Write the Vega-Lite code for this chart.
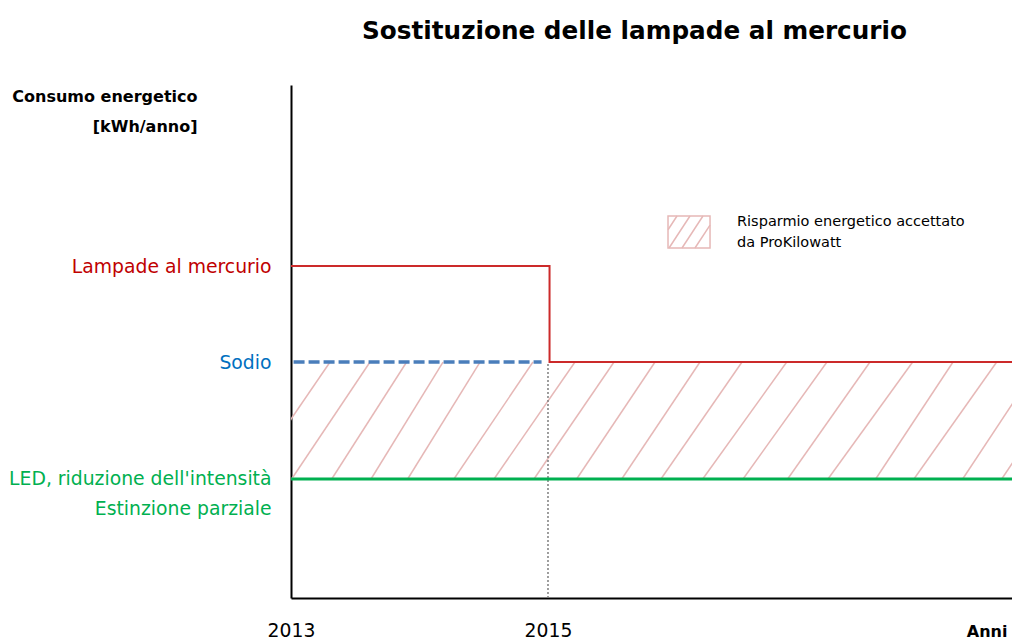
{
  "$schema": "https://vega.github.io/schema/vega-lite/v6.json",
  "width": 721,
  "height": 513,
  "autosize": {"type": "none"},
  "padding": {"left": 291, "top": 85, "right": 0, "bottom": 41},
  "background": "white",
  "config": {"view": {"stroke": null}, "font": "DejaVu Sans"},
  "title": {
    "text": "Sostituzione delle lampade al mercurio",
    "font": "DejaVu Sans",
    "fontSize": 24.7,
    "fontWeight": "bold",
    "color": "#000000",
    "anchor": "middle",
    "dx": -17,
    "baseline": "alphabetic",
    "offset": 21
  },
  "datasets": {
    "red": [
      {"x": 2013, "y": 64.7, "o": 1},
      {"x": 2015.012, "y": 64.7, "o": 2},
      {"x": 2015.012, "y": 46, "o": 3},
      {"x": 2018.611, "y": 46, "o": 4}
    ],
    "blue": [
      {"x": 2013.02, "y": 46},
      {"x": 2014.95, "y": 46}
    ],
    "green": [
      {"x": 2013, "y": 23.2},
      {"x": 2018.611, "y": 23.2}
    ],
    "dotted": [
      {"x": 2015, "y": 0, "y2": 46}
    ],
    "hatch": [
      {"x": 2012.681, "x2": 2013.304, "y": 23.2, "y2": 46},
      {"x": 2013.005, "x2": 2013.615, "y": 23.2, "y2": 46},
      {"x": 2013.317, "x2": 2013.900, "y": 23.2, "y2": 46},
      {"x": 2013.623, "x2": 2014.183, "y": 23.2, "y2": 46},
      {"x": 2013.908, "x2": 2014.471, "y": 23.2, "y2": 46},
      {"x": 2014.268, "x2": 2014.883, "y": 23.2, "y2": 46},
      {"x": 2014.580, "x2": 2015.210, "y": 23.2, "y2": 46},
      {"x": 2014.891, "x2": 2015.514, "y": 23.2, "y2": 46},
      {"x": 2015.223, "x2": 2015.833, "y": 23.2, "y2": 46},
      {"x": 2015.574, "x2": 2016.183, "y": 23.2, "y2": 46},
      {"x": 2015.879, "x2": 2016.510, "y": 23.2, "y2": 46},
      {"x": 2016.204, "x2": 2016.858, "y": 23.2, "y2": 46},
      {"x": 2016.518, "x2": 2017.171, "y": 23.2, "y2": 46},
      {"x": 2016.865, "x2": 2017.506, "y": 23.2, "y2": 46},
      {"x": 2017.179, "x2": 2017.838, "y": 23.2, "y2": 46},
      {"x": 2017.550, "x2": 2018.152, "y": 23.2, "y2": 46},
      {"x": 2017.848, "x2": 2018.492, "y": 23.2, "y2": 46},
      {"x": 2018.227, "x2": 2018.829, "y": 23.2, "y2": 46},
      {"x": 2018.531, "x2": 2019.140, "y": 23.2, "y2": 46}
    ],
    "legendbox": [
      {"x": 2015.934, "x2": 2016.261, "y": 68.23, "y2": 74.46}
    ],
    "legendhatch": [
      {"x": 2015.934, "x2": 2016.004, "y": 71.79, "y2": 74.46},
      {"x": 2015.942, "x2": 2016.105, "y": 68.23, "y2": 74.46},
      {"x": 2016.043, "x2": 2016.206, "y": 68.23, "y2": 74.46},
      {"x": 2016.144, "x2": 2016.261, "y": 68.23, "y2": 72.69}
    ],
    "legendtext": [
      {"x": 2016.471, "y": 73.29, "t": "Risparmio energetico accettato"},
      {"x": 2016.471, "y": 69.2, "t": "da ProKilowatt"}
    ]
  },
  "layer": [
    {
      "data": {"name": "hatch"},
      "mark": {"type": "rule", "clip": true, "color": "#e6b8b7", "strokeWidth": 1.5},
      "encoding": {
        "x": {
          "field": "x", "type": "quantitative",
          "title": "Anni",
          "scale": {"domain": [2013, 2018.611], "nice": false, "zero": false},
          "axis": {
            "title": "Anni",
            "values": [2013, 2015],
            "format": "d",
            "grid": false,
            "ticks": false,
            "tickSize": 0,
            "domainColor": "#000000",
            "domainWidth": 2,
            "labelFont": "DejaVu Sans",
            "labelFontSize": 18.8,
            "labelColor": "#000000",
            "labelBaseline": "middle",
            "labelPadding": 32,
            "labelFlush": false,
            "titleFont": "DejaVu Sans",
            "titleFontWeight": "bold",
            "titleFontSize": 16,
            "titleColor": "#000000",
            "titleAnchor": "end",
            "titleAlign": "right",
            "titleBaseline": "alphabetic",
            "titleX": 716,
            "titleY": 38
          }
        },
        "x2": {"field": "x2"},
        "y": {
          "field": "y", "type": "quantitative",
          "title": ["Consumo energetico", "[kWh/anno]"],
          "scale": {"domain": [0, 100], "nice": false, "zero": false},
          "axis": {
            "title": ["Consumo energetico", "[kWh/anno]"],
            "titleAngle": 0,
            "titleAlign": "right",
            "titleBaseline": "alphabetic",
            "titleX": -94,
            "titleY": 16,
            "titleLineHeight": 30,
            "titleFont": "DejaVu Sans",
            "titleFontSize": 16,
            "titleFontWeight": "bold",
            "titleColor": "#000000",
            "values": [64.7, 46, 23.2, 17.35],
            "labelExpr": "datum.value > 60 ? 'Lampade al mercurio' : datum.value > 40 ? 'Sodio' : datum.value > 20 ? \"LED, riduzione dell'intensità\" : 'Estinzione parziale'",
            "labelColor": {
              "condition": [
                {"test": "datum.value > 60", "value": "#c00000"},
                {"test": "datum.value > 40", "value": "#0070c0"}
              ],
              "value": "#00b050"
            },
            "labelFont": "DejaVu Sans",
            "labelFontSize": 18.8,
            "labelBaseline": "middle",
            "labelPadding": 20,
            "labelLimit": 500,
            "labelOverlap": false,
            "ticks": false,
            "tickSize": 0,
            "grid": false,
            "domainColor": "#000000",
            "domainWidth": 2
          }
        },
        "y2": {"field": "y2"}
      }
    },
    {
      "data": {"name": "dotted"},
      "mark": {"type": "rule", "color": "#7f7f7f", "strokeWidth": 1.5, "strokeDash": [2, 2]},
      "encoding": {
        "x": {"field": "x", "type": "quantitative", "title": "Anni"},
        "y": {"field": "y", "type": "quantitative", "title": ["Consumo energetico", "[kWh/anno]"]},
        "y2": {"field": "y2"}
      }
    },
    {
      "data": {"name": "green"},
      "mark": {"type": "line", "color": "#00b050", "strokeWidth": 3},
      "encoding": {
        "x": {"field": "x", "type": "quantitative", "title": "Anni"},
        "y": {"field": "y", "type": "quantitative", "title": ["Consumo energetico", "[kWh/anno]"]}
      }
    },
    {
      "data": {"name": "blue"},
      "mark": {"type": "line", "color": "#4a7ebb", "strokeWidth": 3.5, "strokeDash": [11, 4]},
      "encoding": {
        "x": {"field": "x", "type": "quantitative", "title": "Anni"},
        "y": {"field": "y", "type": "quantitative", "title": ["Consumo energetico", "[kWh/anno]"]}
      }
    },
    {
      "data": {"name": "red"},
      "mark": {"type": "line", "color": "#cc2a2a", "strokeWidth": 2},
      "encoding": {
        "x": {"field": "x", "type": "quantitative", "title": "Anni"},
        "y": {"field": "y", "type": "quantitative", "title": ["Consumo energetico", "[kWh/anno]"]},
        "order": {"field": "o", "type": "quantitative"}
      }
    },
    {
      "data": {"name": "legendhatch"},
      "mark": {"type": "rule", "color": "#e6b8b7", "strokeWidth": 1.5},
      "encoding": {
        "x": {"field": "x", "type": "quantitative", "title": "Anni"},
        "x2": {"field": "x2"},
        "y": {"field": "y", "type": "quantitative", "title": ["Consumo energetico", "[kWh/anno]"]},
        "y2": {"field": "y2"}
      }
    },
    {
      "data": {"name": "legendbox"},
      "mark": {"type": "rect", "fill": null, "fillOpacity": 0, "stroke": "#e6b8b7", "strokeWidth": 1.5},
      "encoding": {
        "x": {"field": "x", "type": "quantitative", "title": "Anni"},
        "x2": {"field": "x2"},
        "y": {"field": "y", "type": "quantitative", "title": ["Consumo energetico", "[kWh/anno]"]},
        "y2": {"field": "y2"}
      }
    },
    {
      "data": {"name": "legendtext"},
      "mark": {"type": "text", "align": "left", "baseline": "middle", "font": "DejaVu Sans", "fontSize": 14.5, "color": "#000000"},
      "encoding": {
        "x": {"field": "x", "type": "quantitative", "title": "Anni"},
        "y": {"field": "y", "type": "quantitative", "title": ["Consumo energetico", "[kWh/anno]"]},
        "text": {"field": "t"}
      }
    }
  ]
}
